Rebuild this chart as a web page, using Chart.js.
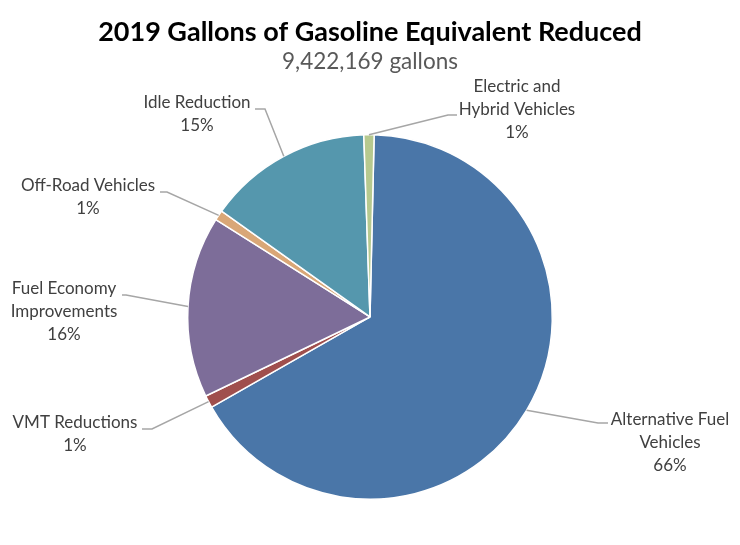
<!DOCTYPE html>
<html>
<head>
<meta charset="utf-8">
<script src="https://cdn.jsdelivr.net/npm/chart.js@4.4.1/dist/chart.umd.min.js"></script>
<style>
  html, body { margin: 0; padding: 0; background: #fff; }
  #wrap { width: 740px; height: 545px; }
</style>
</head>
<body>
<div id="wrap"><canvas id="pieChart" width="740" height="545"></canvas></div>
<script>
// data
const categories = ['Alternative Fuel Vehicles', 'VMT Reductions', 'Fuel Economy Improvements',
                    'Off-Road Vehicles', 'Idle Reduction', 'Electric and Hybrid Vehicles'];
const gallons = [6256000, 104000, 1517000, 85000, 1375000, 85169];
const labelLines = [['Alternative Fuel', 'Vehicles'], ['VMT Reductions'], ['Fuel Economy', 'Improvements'],
                    ['Off-Road Vehicles'], ['Idle Reduction'], ['Electric and', 'Hybrid Vehicles']];
const sliceColors = ['#4A76A8', '#A04F4D', '#7D6D99', '#D9A777', '#5597AD', '#B6C98F'];

const totalGallons = gallons.reduce((a, b) => a + b, 0);

// where each label block sits (text centre x, first line y) and where its leader leaves the text
const labelLayout = [
  { x: 670, y: 420, from: [608, 423], elbow: [598, 423] },
  { x: 75,  y: 423, from: [142, 429], elbow: [152, 429] },
  { x: 64,  y: 289, from: [122, 295], elbow: [126, 295] },
  { x: 88,  y: 186, from: [160, 192], elbow: [167, 192] },
  { x: 197, y: 103, from: [255, 109], elbow: [265, 109] },
  { x: 517, y: 87,  from: [457, 115], elbow: [448, 115] }
];

const outsideLabels = {
  id: 'outsideLabels',
  afterDatasetsDraw(chart) {
    const ctx = chart.ctx;
    const arcs = chart.getDatasetMeta(0).data;
    ctx.save();
    arcs.forEach((arc, i) => {
      const pos = labelLayout[i];
      const mid = (arc.startAngle + arc.endAngle) / 2;
      const ex = arc.x + Math.cos(mid) * arc.outerRadius;
      const ey = arc.y + Math.sin(mid) * arc.outerRadius;
      // leader line
      ctx.strokeStyle = '#A6A6A6';
      ctx.lineWidth = 1.5;
      ctx.beginPath();
      ctx.moveTo(pos.from[0], pos.from[1]);
      ctx.lineTo(pos.elbow[0], pos.elbow[1]);
      ctx.lineTo(ex, ey);
      ctx.stroke();
      // text
      const pct = Math.round(gallons[i] / totalGallons * 100) + '%';
      const lines = labelLines[i].concat([pct]);
      ctx.fillStyle = '#404040';
      ctx.font = '17px Lato, "Open Sans", sans-serif';
      ctx.textAlign = 'center';
      ctx.textBaseline = 'middle';
      lines.forEach((t, k) => ctx.fillText(t, pos.x, pos.y + k * 23));
    });
    ctx.restore();
  }
};

const cty = document.getElementById('pieChart').getContext('2d');
const pieChart = new Chart(cty, {
  type: 'pie',
  data: {
    labels: categories,
    datasets: [{
      label: 'Gallons',
      data: gallons,
      backgroundColor: sliceColors,
      borderColor: '#ffffff',
      borderWidth: 1.5
    }]
  },
  options: {
    responsive: false,
    animation: false,
    devicePixelRatio: 1,
    rotation: 1.3,
    layout: { padding: { top: 0, bottom: 45, left: 0, right: 0 } },
    plugins: {
      legend: { display: false },
      tooltip: { enabled: false },
      title: {
        display: true,
        text: '2019 Gallons of Gasoline Equivalent Reduced',
        color: '#000000',
        font: { family: 'Lato, "Open Sans", sans-serif', size: 27, weight: 'bold', lineHeight: 1.2 },
        padding: { top: 16, bottom: 0 }
      },
      subtitle: {
        display: true,
        text: '9,422,169 gallons',
        color: '#595959',
        font: { family: 'Lato, "Open Sans", sans-serif', size: 22.5, lineHeight: 1.2 },
        padding: { top: 0, bottom: 58.5 }
      }
    }
  },
  plugins: [outsideLabels]
});
</script>
</body>
</html>
